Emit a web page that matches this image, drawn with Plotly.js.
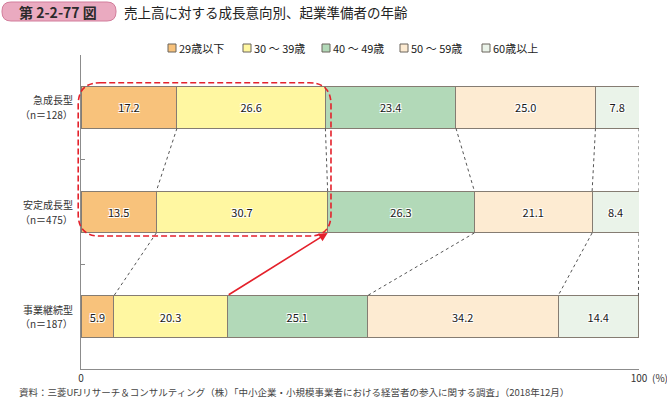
<!DOCTYPE html>
<html>
<head>
<meta charset="utf-8">
<script src="https://cdn.plot.ly/plotly-3.0.1.min.js"></script>
<style>
  html, body { margin: 0; padding: 0; background: #fff; }
  #chart { width: 667px; height: 401px; }
</style>
</head>
<body>
<div id="chart"></div>
<script>
const categories = ['急成長型', '安定成長型', '事業継続型'];
const sampleSizes = ['（n＝128）', '（n＝475）', '（n＝187）'];
const ageGroups = ['29歳以下', '30 ～ 39歳', '40 ～ 49歳', '50 ～ 59歳', '60歳以上'];
const under29 = [17.2, 13.5, 5.9];
const age30s = [26.6, 30.7, 20.3];
const age40s = [23.4, 26.3, 25.1];
const age50s = [25.0, 21.1, 34.2];
const over60 = [7.8, 8.4, 14.4];
const xTickVals = [0, 100];
const xTickText = ['0', '100'];

const series = [under29, age30s, age40s, age50s, over60];
const colors = ['#f8c27b', '#fff7a1', '#b2d9b8', '#fdebd2', '#eaf3e9'];
const rows = categories.map((_, i) => i);
const barWidth = 0.4;
const half = barWidth / 2;

// plot area in pixels, used for the decorations around the plot
const W = 667, H = 401;
const M = { l: 81, r: 28, t: 55, b: 32 };
const plotW = W - M.l - M.r;
const plotH = H - M.t - M.b;
const pxX = (px) => (px - M.l) / plotW;
const pxY = (py) => 1 - (py - M.t) / plotH;

const bars = series.map((vals, k) => ({
  type: 'bar',
  orientation: 'h',
  name: ageGroups[k],
  x: vals,
  y: rows,
  width: barWidth,
  marker: { color: colors[k], line: { color: '#857c72', width: 1 } },
  text: vals.map((v) => v.toFixed(1)),
  textposition: 'inside',
  insidetextanchor: 'middle',
  textangle: 0,
  textfont: {
    size: 11,
    color: '#1a1a1a',
    shadow: '1px 1px 0 #fff, -1px -1px 0 #fff, 1px -1px 0 #fff, -1px 1px 0 #fff',
  },
  hoverinfo: 'skip',
  showlegend: false,
}));

// cumulative boundaries per row
const cum = rows.map((i) => {
  let s = 0;
  return series.map((vals) => (s += vals[i]));
});

// dotted links between neighbouring rows (the one shown by the red arrow is skipped)
const links = [];
for (let i = 0; i < rows.length - 1; i++) {
  for (let k = 0; k < series.length; k++) {
    if (i === 1 && k === 1) continue;
    links.push({
      type: 'scatter',
      mode: 'lines',
      x: [cum[i][k], cum[i + 1][k]],
      y: [rows[i] + half, rows[i + 1] - half],
      line: { color: '#555', width: 1, dash: 'dot' },
      showlegend: false,
      hoverinfo: 'skip',
    });
  }
}

const roundRect = (x0, x1, y0, y1, rx, ry) =>
  `M${x0 + rx},${y0} L${x1 - rx},${y0} Q${x1},${y0} ${x1},${y0 + ry} ` +
  `L${x1},${y1 - ry} Q${x1},${y1} ${x1 - rx},${y1} L${x0 + rx},${y1} ` +
  `Q${x0},${y1} ${x0},${y1 - ry} L${x0},${y0 + ry} Q${x0},${y0} ${x0 + rx},${y0} Z`;

// header badge
const badge = {
  type: 'path', xref: 'paper', yref: 'paper',
  path: roundRect(pxX(2), pxX(116), pxY(2), pxY(21), 9 / plotW, -9 / plotH),
  fillcolor: '#eaaac0', line: { color: '#d27d9b', width: 1 }, layer: 'above',
};

// red dashed highlight around the first two age groups of the top two rows
const nRows = rows.length;
const dataToPaperY = (y) => 1 - (y + 0.5) / nRows;
const boxRight = Math.max(cum[0][1], cum[1][1]) + 0.6;
const highlight = {
  type: 'path', xref: 'paper', yref: 'paper',
  path: roundRect(-0.005, boxRight / 100,
    dataToPaperY(rows[0] - half - 0.035), dataToPaperY(rows[1] + half + 0.03),
    22 / plotW, -22 / plotH),
  line: { color: '#e4212b', width: 1.6, dash: '6px,3px' },
  layer: 'above',
};

// legend drawn as small squares with labels
const legendX = [168, 243, 322, 400, 482];
const legendY = 48;
const legendShapes = ageGroups.map((_, k) => ({
  type: 'rect', xref: 'paper', yref: 'paper',
  x0: pxX(legendX[k]), x1: pxX(legendX[k] + 8),
  y0: pxY(legendY - 4), y1: pxY(legendY + 4),
  fillcolor: colors[k], line: { color: '#6b645c', width: 1 },
}));
const legendNotes = ageGroups.map((name, k) => ({
  xref: 'paper', yref: 'paper', x: pxX(legendX[k] + 9), y: pxY(legendY),
  xanchor: 'left', yanchor: 'middle', showarrow: false,
  text: name, font: { size: 11, color: '#222' },
}));

// two-line category labels
const rowLabels = [];
rows.forEach((r, i) => {
  rowLabels.push({
    xref: 'paper', yref: 'y', x: 0, y: r, xshift: -6, yshift: 7.5,
    xanchor: 'right', yanchor: 'middle', showarrow: false,
    text: categories[i], font: { size: 10, color: '#333' },
  });
  rowLabels.push({
    xref: 'paper', yref: 'y', x: 0, y: r, xshift: -6, yshift: -7,
    xanchor: 'right', yanchor: 'middle', showarrow: false,
    text: sampleSizes[i], font: { size: 10, color: '#333' },
  });
});

const layout = {
  width: W,
  height: H,
  margin: M,
  paper_bgcolor: '#fff',
  plot_bgcolor: '#fff',
  barmode: 'stack',
  font: { family: '"Noto Sans CJK JP", "Noto Sans", sans-serif', color: '#333', size: 11 },
  showlegend: false,
  xaxis: {
    range: [0, 100],
    tickvals: xTickVals,
    ticktext: xTickText,
    ticks: 'inside',
    ticklen: 4,
    tickcolor: '#888',
    showline: true,
    linecolor: '#8c8c8c',
    linewidth: 1,
    showgrid: false,
    zeroline: false,
    tickfont: { size: 10, color: '#333' },
    fixedrange: true,
  },
  yaxis: {
    range: [nRows - 0.5, -0.5],
    tickvals: rows,
    showticklabels: false,
    ticks: '',
    showline: true,
    linecolor: '#8c8c8c',
    linewidth: 1,
    showgrid: false,
    zeroline: false,
    fixedrange: true,
  },
  yaxis2: {
    overlaying: 'y',
    range: [nRows - 0.5, -0.5],
    tickvals: [-0.5, 0.5, 1.5, 2.5],
    ticks: 'inside',
    ticklen: 4,
    tickcolor: '#888',
    showticklabels: false,
    showgrid: false,
    zeroline: false,
    fixedrange: true,
  },
  shapes: [badge, highlight, ...legendShapes],
  annotations: [
    {
      xref: 'paper', yref: 'paper', x: pxX(58), y: pxY(12),
      xanchor: 'center', yanchor: 'middle', showarrow: false,
      text: '<b>第 2-2-77 図</b>', font: { size: 14, color: '#2b2b2b' },
    },
    {
      xref: 'paper', yref: 'paper', x: pxX(122), y: pxY(12),
      xanchor: 'left', yanchor: 'middle', showarrow: false,
      text: '売上高に対する成長意向別、起業準備者の年齢', font: { size: 13.5, color: '#222' },
    },
    {
      xref: 'x', yref: 'y', axref: 'x', ayref: 'y',
      x: cum[1][1], y: rows[1] + half,
      ax: cum[2][1], ay: rows[2] - half,
      showarrow: true, arrowhead: 2, arrowsize: 1.1, arrowwidth: 1.6,
      arrowcolor: '#e4212b', standoff: 0, text: '',
    },
    {
      xref: 'paper', yref: 'paper', x: 1, y: 0, xshift: 11, yshift: -8,
      xanchor: 'left', yanchor: 'middle', showarrow: false,
      text: '(%)', font: { size: 10, color: '#333' },
    },
    {
      xref: 'paper', yref: 'paper', x: pxX(17), y: pxY(392),
      xanchor: 'left', yanchor: 'middle', showarrow: false,
      text: '資料：三菱UFJリサーチ＆コンサルティング（株）「中小企業・小規模事業者における経営者の参入に関する調査」（2018年12月）',
      font: { size: 9.5, color: '#444' },
    },
    ...legendNotes,
    ...rowLabels,
  ],
};

const config = { displayModeBar: false, staticPlot: true };

// invisible trace so the second y axis (boundary ticks) is drawn
const tickHolder = {
  type: 'scatter', mode: 'none', x: [0], y: [0], yaxis: 'y2',
  showlegend: false, hoverinfo: 'skip',
};

Plotly.newPlot('chart', [...bars, ...links, tickHolder], layout, config);
</script>
</body>
</html>
